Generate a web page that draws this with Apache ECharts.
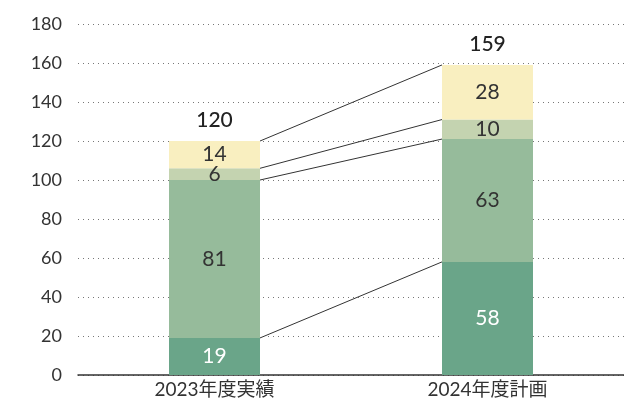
<!DOCTYPE html>
<html>
<head>
<meta charset="utf-8">
<script src="https://cdn.jsdelivr.net/npm/echarts@6/dist/echarts.min.js"></script>
<style>
  html, body { margin: 0; padding: 0; background: #fff; }
  #chartBox { width: 624px; height: 401px; }
</style>
</head>
<body>
<div id="chartBox"></div>
<script>
  // データ
  var categories = ['2023年度実績', '2024年度計画'];
  var seriesA = [19, 58];   // 一番下
  var seriesB = [81, 63];
  var seriesC = [6, 10];
  var seriesD = [14, 28];   // 一番上
  var totals = [120, 159];
  var yTicks = [0, 20, 40, 60, 80, 100, 120, 140, 160, 180];

  var barW = 91;
  var font = 'Lato, "Noto Sans CJK JP", sans-serif';

  var chart = echarts.init(document.getElementById('chartBox'));

  function seg(name, data, color, txtColor) {
    return {
      name: name,
      type: 'bar',
      stack: 'total',
      data: data,
      barWidth: barW,
      itemStyle: { color: color },
      label: {
        show: true,
        position: 'inside',
        color: txtColor,
        fontSize: 21,
        fontFamily: font
      },
      silent: true
    };
  }

  var option = {
    animation: false,
    grid: { left: 78, width: 552, top: 24, bottom: 26 },
    xAxis: {
      type: 'category',
      data: categories,
      axisTick: { show: false },
      axisLine: { lineStyle: { color: '#333', width: 1.5 } },
      axisLabel: { color: '#333', fontSize: 19, fontFamily: font, margin: 5 }
    },
    yAxis: {
      type: 'value',
      min: yTicks[0],
      max: yTicks[yTicks.length - 1],
      interval: 20,
      axisLine: { show: false },
      axisTick: { show: false },
      axisLabel: { color: '#333', fontSize: 18, fontFamily: font, margin: 16 },
      splitLine: { lineStyle: { color: '#777', type: [1, 4], width: 1 } }
    },
    series: [
      seg('A', seriesA, '#6aa589', '#fff'),
      seg('B', seriesB, '#96bb9b', '#333'),
      seg('C', seriesC, '#c4d3b0', '#333'),
      seg('D', seriesD, '#f9efc0', '#333'),
      {
        name: 'total',
        type: 'bar',
        stack: 'total',
        barWidth: barW,
        data: [0, 0],
        itemStyle: { color: 'transparent' },
        label: {
          show: true,
          position: 'top',
          distance: 10,
          color: '#222',
          fontSize: 21,
          fontWeight: 500,
          fontFamily: font,
          formatter: function (p) { return totals[p.dataIndex]; }
        }
      }
    ]
  };
  chart.setOption(option);

  // 各段の上端を結ぶ線
  var stacks = [seriesA, seriesB, seriesC, seriesD];
  var cum = [0, 0];
  var lines = [];
  stacks.forEach(function (s) {
    cum = [cum[0] + s[0], cum[1] + s[1]];
    var p1 = chart.convertToPixel({ xAxisIndex: 0, yAxisIndex: 0 }, [0, cum[0]]);
    var p2 = chart.convertToPixel({ xAxisIndex: 0, yAxisIndex: 0 }, [1, cum[1]]);
    lines.push({
      type: 'line',
      shape: { x1: p1[0] + barW / 2, y1: p1[1], x2: p2[0] - barW / 2, y2: p2[1] },
      style: { stroke: '#333', lineWidth: 1 },
      z: 100
    });
  });
  chart.setOption({ graphic: lines });
</script>
</body>
</html>
